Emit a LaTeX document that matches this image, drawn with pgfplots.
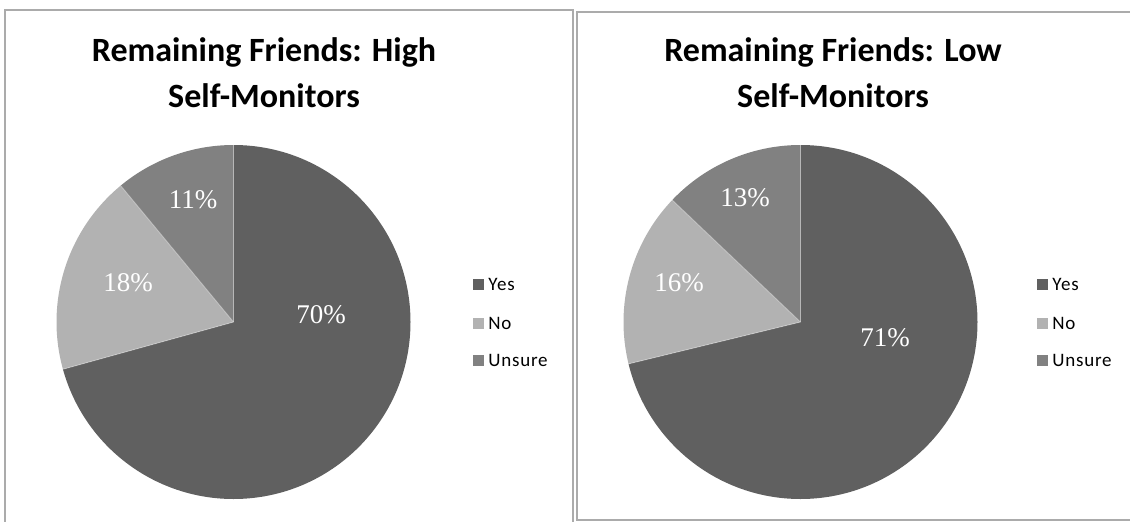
\documentclass[border=0pt]{standalone}
\usepackage{pgfplots}
\pgfplotsset{compat=1.18}
\usepackage{pgfplotstable}
\usepackage{fontspec}
\setmainfont{Carlito}
\newfontfamily\numfont{Liberation Serif}
\newfontfamily\legfont[LetterSpace=4]{Carlito}
\definecolor{yescol}{HTML}{606060}
\definecolor{nocol}{HTML}{B2B2B2}
\definecolor{unscol}{HTML}{818181}
\definecolor{framecol}{HTML}{ABABAB}

\pgfplotstableread{
cat high low
Yes 70.7 71.2
No 18.3 15.9
Unsure 11.0 12.9
}\pietable

\pgfplotstablegetelem{0}{high}\of\pietable \let\hYes\pgfplotsretval
\pgfplotstablegetelem{1}{high}\of\pietable \let\hNo\pgfplotsretval
\pgfplotstablegetelem{0}{low}\of\pietable \let\lYes\pgfplotsretval
\pgfplotstablegetelem{1}{low}\of\pietable \let\lNo\pgfplotsretval
\pgfmathsetmacro\Ha{90-3.6*\hYes}
\pgfmathsetmacro\Hb{\Ha-3.6*\hNo}
\pgfmathsetmacro\La{90-3.6*\lYes}
\pgfmathsetmacro\Lb{\La-3.6*\lNo}
\def\R{88.5pt}

\begin{document}
\begin{tikzpicture}
\useasboundingbox (0,0) rectangle (565pt,260.5pt);
\begin{axis}[at={(0,0)}, anchor=south west, scale only axis,
  width=565pt, height=260.5pt, xmin=0, xmax=1130, ymin=0, ymax=521,
  hide axis, clip=false]
% frames
\draw[framecol, line width=0.8pt] (axis cs:5,-20) -- (axis cs:5,511) -- (axis cs:573,511) -- (axis cs:573,-20);
\draw[framecol, line width=0.8pt] (axis cs:1150,1) -- (axis cs:577,1) -- (axis cs:577,509) -- (axis cs:1150,509);
% left pie
\fill[yescol] (axis cs:233.5,199) -- ++(90:\R) arc[start angle=90, end angle=\Ha, radius=\R] -- cycle;
\fill[nocol] (axis cs:233.5,199) -- ++(\Ha:\R) arc[start angle=\Ha, end angle=\Hb, radius=\R] -- cycle;
\fill[unscol] (axis cs:233.5,199) -- ++(\Hb:\R) arc[start angle=\Hb, end angle=-270, radius=\R] -- cycle;
\draw[white, opacity=0.3, line width=0.5pt] (axis cs:233.5,199) -- ++(90:\R);
\draw[white, opacity=0.3, line width=0.5pt] (axis cs:233.5,199) -- ++(\Ha:\R);
\draw[white, opacity=0.3, line width=0.5pt] (axis cs:233.5,199) -- ++(\Hb:\R);
% right pie
\fill[yescol] (axis cs:800.5,199) -- ++(90:\R) arc[start angle=90, end angle=\La, radius=\R] -- cycle;
\fill[nocol] (axis cs:800.5,199) -- ++(\La:\R) arc[start angle=\La, end angle=\Lb, radius=\R] -- cycle;
\fill[unscol] (axis cs:800.5,199) -- ++(\Lb:\R) arc[start angle=\Lb, end angle=-270, radius=\R] -- cycle;
\draw[white, opacity=0.3, line width=0.5pt] (axis cs:800.5,199) -- ++(90:\R);
\draw[white, opacity=0.3, line width=0.5pt] (axis cs:800.5,199) -- ++(\La:\R);
\draw[white, opacity=0.3, line width=0.5pt] (axis cs:800.5,199) -- ++(\Lb:\R);
% percentage labels
\tikzset{pct/.style={text=white, font=\numfont\fontsize{13.5}{15}\selectfont, inner sep=0pt}}
\node[pct] at (axis cs:321,206) {70\%};
\node[pct] at (axis cs:128,238) {18\%};
\node[pct] at (axis cs:193,321) {11\%};
\node[pct] at (axis cs:885,183) {71\%};
\node[pct] at (axis cs:679,238) {16\%};
\node[pct] at (axis cs:745,323) {13\%};
% titles
\tikzset{ttl/.style={font=\bfseries\fontsize{17}{20}\selectfont, anchor=base, inner sep=0pt}}
\node[ttl] at (axis cs:264,459) {Remaining Friends: High};
\node[ttl] at (axis cs:264,414) {Self-Monitors};
\node[ttl] at (axis cs:833,459) {Remaining Friends: Low};
\node[ttl] at (axis cs:833,414) {Self-Monitors};
% legends
\tikzset{lg/.style={font=\legfont\fontsize{9.5}{11}\selectfont, anchor=west, inner sep=0pt}}
\fill[yescol] (axis cs:472.5,231.5) rectangle (axis cs:483.5,242.5);
\fill[nocol] (axis cs:472.5,192.5) rectangle (axis cs:483.5,203.5);
\fill[unscol] (axis cs:472.5,155.5) rectangle (axis cs:483.5,166.5);
\node[lg] at (axis cs:488,237) {Yes};
\node[lg] at (axis cs:488,198) {No};
\node[lg] at (axis cs:488,161) {Unsure};
\fill[yescol] (axis cs:1036.5,231.5) rectangle (axis cs:1047.5,242.5);
\fill[nocol] (axis cs:1036.5,192.5) rectangle (axis cs:1047.5,203.5);
\fill[unscol] (axis cs:1036.5,155.5) rectangle (axis cs:1047.5,166.5);
\node[lg] at (axis cs:1052,237) {Yes};
\node[lg] at (axis cs:1052,198) {No};
\node[lg] at (axis cs:1052,161) {Unsure};
\end{axis}
\end{tikzpicture}
\end{document}
